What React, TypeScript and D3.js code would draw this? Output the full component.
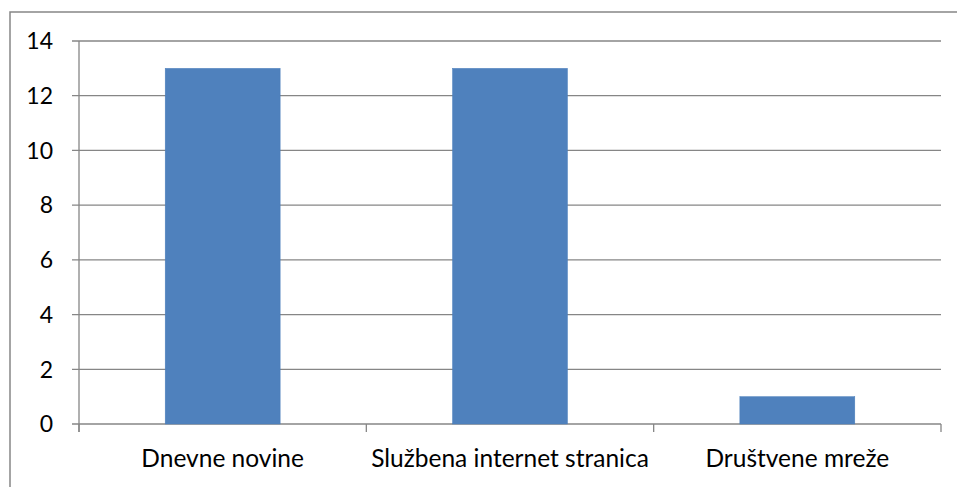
import React from "react";
import * as d3 from "d3";

const categories = ["Dnevne novine", "Službena internet stranica", "Društvene mreže"];
const values = [13, 13, 1];
const yTicks = [0, 2, 4, 6, 8, 10, 12, 14];

const W = 957, H = 487;
const plot = { left: 79, right: 941, top: 41, bottom: 424 };
const FONT = "Lato, 'Open Sans', sans-serif";

export default function App() {
  const x = d3.scaleBand<string>().domain(categories).range([plot.left, plot.right]).paddingInner(0.6).paddingOuter(0.3);
  const band = d3.scaleBand<string>().domain(categories).range([plot.left, plot.right]);
  const y = d3.scaleLinear().domain([0, 14]).range([plot.bottom, plot.top]);
  const edges = [plot.left, ...categories.map((c) => (band(c) as number) + band.bandwidth())];
  return (
    <svg width={W} height={H} style={{ position: "absolute", left: 0, top: 0 }}>
      <rect x={0} y={0} width={W} height={H} fill="#fff" />
      <rect x={10} y={12} width={W + 20} height={H + 20} fill="none" stroke="#868686" strokeWidth={1.5} />
      {yTicks.map((t) => (
        <g key={t}>
          <line x1={plot.left - 7} x2={plot.right} y1={y(t)} y2={y(t)} stroke="#868686" strokeWidth={1.3} />
          <text x={53} y={y(t)} dy="0.36em" textAnchor="end" fontFamily={FONT} fontSize={23} fill="#000">{t}</text>
        </g>
      ))}
      <line x1={plot.left} x2={plot.left} y1={plot.top} y2={plot.bottom + 8} stroke="#868686" strokeWidth={1.3} />
      {edges.map((e, i) => (
        <line key={i} x1={e} x2={e} y1={plot.bottom} y2={plot.bottom + 8} stroke="#868686" strokeWidth={1.3} />
      ))}
      {categories.map((c, i) => (
        <rect key={c} x={x(c)} y={y(values[i])} width={x.bandwidth()} height={y(0) - y(values[i])} fill="#4F81BD" stroke="#4A7EBB" strokeWidth={0.5} />
      ))}
      {categories.map((c) => (
        <text key={c} x={(band(c) as number) + band.bandwidth() / 2} y={467} textAnchor="middle" fontFamily={FONT} fontSize={24.5} fill="#000">{c}</text>
      ))}
    </svg>
  );
}
